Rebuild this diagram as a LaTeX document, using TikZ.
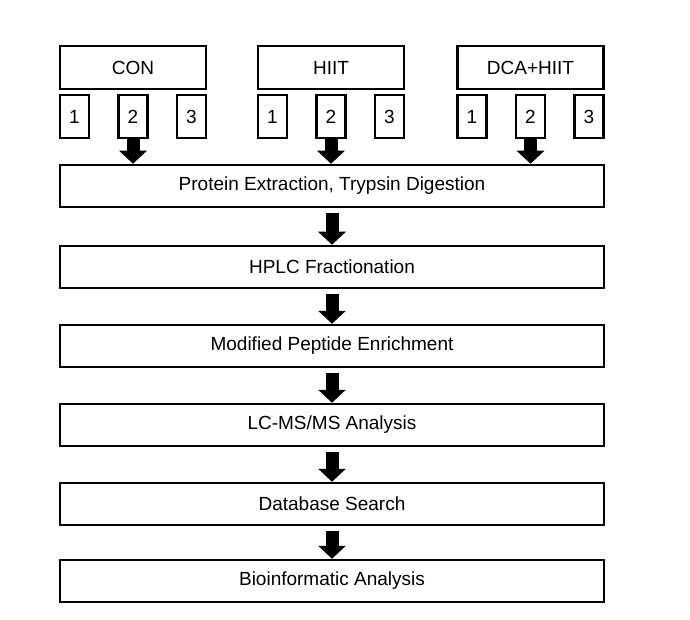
\documentclass[tikz,border=0pt]{standalone}
\usepackage{fontspec}
\setmainfont{Liberation Sans}
\usetikzlibrary{arrows.meta}
\begin{document}
\begin{tikzpicture}[x=1pt,y=-1pt]
            \tikzstyle{group box}=[draw,line width=2.5pt,minimum width=146pt,minimum height=43pt,inner sep=0pt,font=\fontsize{19}{22}\selectfont]
            \tikzstyle{rep box}=[draw,line width=2.5pt,minimum width=29pt,minimum height=43pt,inner sep=0pt,font=\fontsize{19}{22}\selectfont]
            \tikzstyle{step box}=[draw,line width=2.5pt,minimum width=544pt,minimum height=42pt,inner sep=0pt,font=\fontsize{19}{22}\selectfont]
            \tikzstyle{fat arrow}=[line width=13pt,-{Triangle[width=27pt,length=13pt]}]

            \useasboundingbox (0,0) rectangle (690,620);

            % processing steps
            \foreach \n/\y/\t in {1/186/{Protein Extraction, Trypsin Digestion},
                                  2/267/{HPLC Fractionation},
                                  3/346/{Modified Peptide Enrichment},
                                  4/425/{LC-MS/MS Analysis},
                                  5/504/{Database Search},
                                  6/581/{Bioinformatic Analysis}}
            \node(s\n)[step box] at (332,\y) {\t};

            % groups with three replicates each
            \foreach \g/\x/\t in {con/133/CON,hiit/331/HIIT,dca/530.5/DCA+HIIT}{
            \node(\g)[group box] at (\x,67.5) {\t};
            \node(\g1)[rep box] at (\x-58.5,116.5) {1};
            \node(\g2)[rep box] at (\x,116.5) {2};
            \node(\g3)[rep box] at (\x+58.5,116.5) {3};
            \draw[fat arrow] (\g2.south) -- (\g2.south |- s1.north);
            }

            \foreach \a/\b in {1/2,2/3,3/4,4/5,5/6}
            \draw[fat arrow] ([yshift=-5pt]s\a.south) -- (s\b.north);
        \end{tikzpicture}
\end{document}
